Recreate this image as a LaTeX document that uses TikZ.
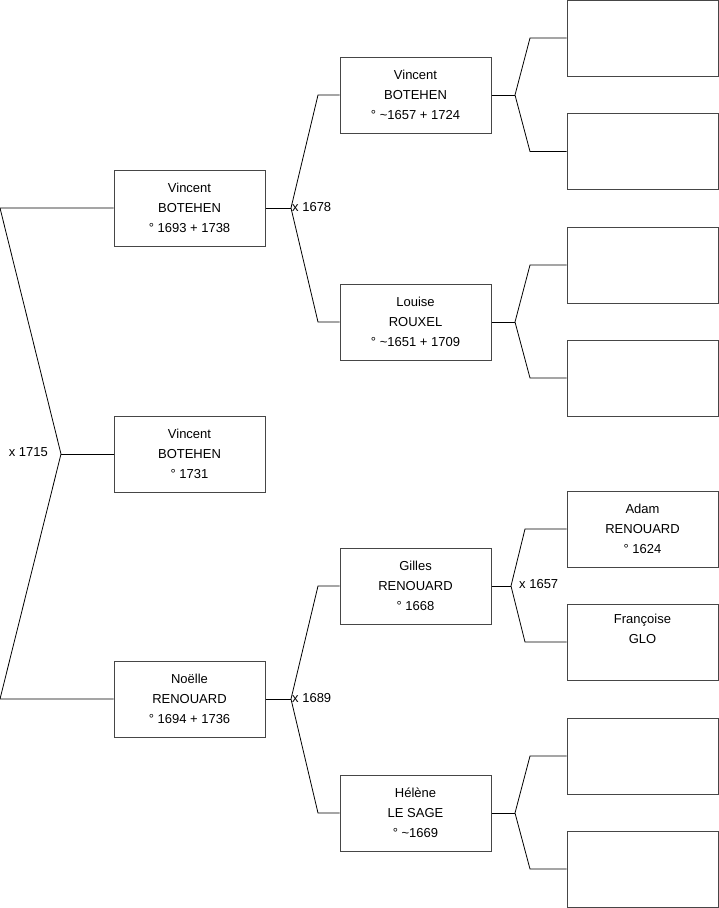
\documentclass[tikz,border=0pt]{standalone}
\usepackage{fontspec}
\setmainfont{Liberation Sans}
\begin{document}
\begin{tikzpicture}[x=1pt,y=-1pt,
  person/.style={draw={rgb,255:red,70;green,70;blue,70}, line width=1pt, minimum width=151pt, minimum height=76pt, inner sep=0pt, align=center, font=\fontsize{13}{20}\selectfont},
  link/.style={draw=black, line width=0.8pt},
  marr/.style={font=\fontsize{13}{16}\selectfont, inner sep=1pt}]
\useasboundingbox (0,0) rectangle (719,908);
% column 1
\node[person] (p1) at (189.5,208) {Vincent\\BOTEHEN\\° 1693 + 1738};
\node[person] (p0) at (189.5,454) {Vincent\\BOTEHEN\\° 1731};
\node[person] (p2) at (189.5,699) {Noëlle\\RENOUARD\\° 1694 + 1736};
% column 2
\node[person] (p3) at (415.5,95) {Vincent\\BOTEHEN\\° \textasciitilde1657 + 1724};
\node[person] (p4) at (415.5,322) {Louise\\ROUXEL\\° \textasciitilde1651 + 1709};
\node[person] (p5) at (415.5,586) {Gilles\\RENOUARD\\° 1668};
\node[person] (p6) at (415.5,813) {Hélène\\LE SAGE\\° \textasciitilde1669};
% column 3
\node[person] (p7) at (642.5,38) {};
\node[person] (p8) at (642.5,151.5) {};
\node[person] (p9) at (642.5,265) {};
\node[person] (p10) at (642.5,378) {};
\node[person] (p11) at (642.5,529) {Adam\\RENOUARD\\° 1624};
\node[person] (p12) at (642.5,642) {Françoise\\GLO\\\strut};
\node[person] (p13) at (642.5,756) {};
\node[person] (p14) at (642.5,869) {};
% root fork
\coordinate (r1) at (0,208);
\coordinate (rv) at (61,454);
\coordinate (r2) at (0,699);
\draw[link] (p1.west) -- (r1) -- (rv) -- (r2) -- (p2.west);
\draw[link] (rv) -- (p0.west);
\node[marr, anchor=east] (m0) at (49,452) {x 1715};
% fork p1
\coordinate (a1) at (291,208);
\coordinate (a1t) at (318,95);
\coordinate (a1b) at (318,322);
\draw[link] (p1.east) -- (a1);
\draw[link] (p3.west) -- (a1t) -- (a1) -- (a1b) -- (p4.west);
\node[marr, anchor=west] (m1) at (291,207) {x 1678};
% fork p2
\coordinate (a2) at (291,699);
\coordinate (a2t) at (318,586);
\coordinate (a2b) at (318,813);
\draw[link] (p2.east) -- (a2);
\draw[link] (p5.west) -- (a2t) -- (a2) -- (a2b) -- (p6.west);
\node[marr, anchor=west] (m2) at (291,698) {x 1689};
% fork p3
\coordinate (b3) at (515,95);
\coordinate (b3t) at (530,38);
\coordinate (b3b) at (530,151.5);
\draw[link] (p3.east) -- (b3);
\draw[link] (p7.west) -- (b3t) -- (b3) -- (b3b) -- (p8.west);
% fork p4
\coordinate (b4) at (515,322);
\coordinate (b4t) at (530,265);
\coordinate (b4b) at (530,378);
\draw[link] (p4.east) -- (b4);
\draw[link] (p9.west) -- (b4t) -- (b4) -- (b4b) -- (p10.west);
% fork p5
\coordinate (b5) at (511,586);
\coordinate (b5t) at (525,529);
\coordinate (b5b) at (525,642);
\draw[link] (p5.east) -- (b5);
\draw[link] (p11.west) -- (b5t) -- (b5) -- (b5b) -- (p12.west);
\node[marr, anchor=west] (m5) at (518,584) {x 1657};
% fork p6
\coordinate (b6) at (515,813);
\coordinate (b6t) at (530,756);
\coordinate (b6b) at (530,869);
\draw[link] (p6.east) -- (b6);
\draw[link] (p13.west) -- (b6t) -- (b6) -- (b6b) -- (p14.west);
\end{tikzpicture}
\end{document}
